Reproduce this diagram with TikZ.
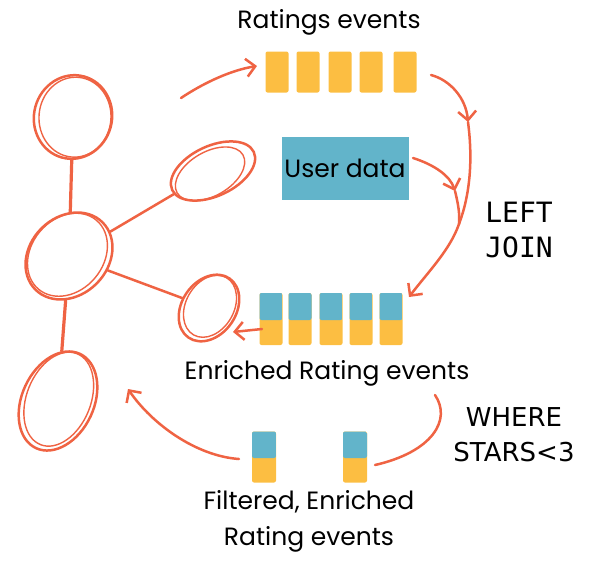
\documentclass[tikz,border=0pt]{standalone}
\usepackage{fontspec}
\setmainfont{Poppins}
\newfontfamily\monof{DejaVu Sans Mono}
\newfontfamily\sansf{DejaVu Sans}
\usetikzlibrary{shapes.geometric,arrows.meta}
\definecolor{orng}{RGB}{239,99,67}
\definecolor{yel}{RGB}{252,190,66}
\definecolor{blu}{RGB}{98,180,202}
\begin{document}
\begin{tikzpicture}[x=1pt,y=-1pt,
  sk/.style={draw=orng, line width=2.5pt, line cap=round, line join=round},
  thin/.style={draw=orng, line width=1.4pt},
  arr/.style={sk, -{Straight Barb[length=9pt,width=18pt]}},
  blob/.style={sk, ellipse, inner sep=0pt},
  ycup/.style={fill=yel, minimum width=23pt, minimum height=41pt, rounded corners=2pt, inner sep=0pt},
  bcup/.style={fill=yel, minimum width=23pt, minimum height=52pt, rounded corners=2pt, inner sep=0pt,
    path picture={\fill[blu] (path picture bounding box.north west) rectangle ([yshift=-1pt]path picture bounding box.east);}},
  lbl/.style={font=\fontsize{25}{36}\selectfont, align=center, inner sep=0pt},
  mono/.style={font=\monof\fontsize{28}{35}\selectfont, align=left, inner sep=0pt},
  sql/.style={font=\sansf\fontsize{26}{35}\selectfont, align=center, inner sep=0pt}
]
\useasboundingbox (0,0) rectangle (599,574);

% graph nodes
\node[blob, minimum width=78pt, minimum height=84pt, rotate=-15] (c1) at (73,117) {};
\node[blob, minimum width=90pt, minimum height=50pt, rotate=25] (c2) at (213,171) {};
\node[blob, minimum width=95pt, minimum height=78pt, rotate=45] (c3) at (69,256) {};
\node[blob, minimum width=72pt, minimum height=54pt, rotate=55] (c4) at (209,308) {};
\node[blob, minimum width=104pt, minimum height=72pt, rotate=65] (c5) at (58,401) {};
% second sketch strokes
\draw[thin, rotate around={-5:(c1)}] ([xshift=2pt]c1) ellipse [x radius=36pt, y radius=40pt];
\draw[thin, rotate around={30:(c2)}] ([xshift=-4pt,yshift=-1pt]c2) ellipse [x radius=38pt, y radius=22pt];
\draw[thin, rotate around={50:(c3)}] ([yshift=2pt]c3) ellipse [x radius=45pt, y radius=36pt];
\draw[thin, rotate around={60:(c4)}] ([xshift=2pt]c4) ellipse [x radius=33pt, y radius=24pt];
\draw[thin, rotate around={68:(c5)}] ([xshift=2pt]c5) ellipse [x radius=49pt, y radius=32pt];

% graph edges
\draw[sk, line width=3.2pt] (c1) -- (c3);
\draw[sk, line width=3.2pt] (c3) -- (c5);
\draw[sk] (c3) -- (c2);
\draw[sk] (c4) -- (c3);

% Ratings events
\node[lbl] (rl) at (329,22) {Ratings events};
\node[ycup] (r1) at (277,72) {};
\node[ycup] (r2) at (308,72) {};
\node[ycup] (r3) at (340,72) {};
\node[ycup] (r4) at (371,72) {};
\node[ycup] (r5) at (405,72) {};

% User data
\node[fill=blu, minimum width=127pt, minimum height=63pt, inner sep=0pt, font=\fontsize{25}{30}\selectfont] (ud) at (345,168) {User data};

% Enriched
\node[bcup] (e1) at (271,319) {};
\node[bcup] (e2) at (300,319) {};
\node[bcup] (e3) at (331,319) {};
\node[bcup] (e4) at (361,319) {};
\node[bcup] (e5) at (391,319) {};
\node[lbl] (el) at (327,373) {Enriched Rating events};

% Filtered
\node[bcup, minimum width=24pt, minimum height=51pt] (f1) at (264,457) {};
\node[bcup, minimum width=24pt, minimum height=51pt] (f2) at (355,457) {};
\node[lbl] (fl) at (309,521) {Filtered, Enriched\\Rating events};

% SQL labels
\node[mono] (lj) at (519,230) {LEFT\\JOIN};
\node[sql] (wh) at (514,435) {WHERE\\STARS<3};

% connector coordinates
\coordinate (a0) at (181,98);
\coordinate (a1) at (257,66);
\coordinate (j0) at (431,75);
\coordinate (j1) at (468,122);
\coordinate (jm) at (459,224);
\coordinate (jt) at (409,297);
\coordinate (u0) at (413,158);
\coordinate (u1) at (455,191);
\coordinate (e1a) at (262,329);
\coordinate (c4a) at (233,332);
\coordinate (f1a) at (239,459);
\coordinate (c5a) at (128,389);
\coordinate (w0) at (435,395);
\coordinate (w1) at (375,465);

% connectors
\draw[arr] (a0) .. controls (205,82) and (232,70) .. (a1);
\draw[arr] (j0) .. controls (450,80) and (466,98) .. (j1);
\draw[sk] (j1) .. controls (473,160) and (470,195) .. (jm);
\draw[arr] (jm) .. controls (450,250) and (428,272) .. (jt);
\draw[arr] (u0) .. controls (435,165) and (450,176) .. (u1);
\draw[sk] (u1) .. controls (458,203) and (460,214) .. (jm);
\draw[arr] (e1a) -- (c4a);
\draw[arr] (f1a) .. controls (196,456) and (152,424) .. (c5a);
\draw[sk] (w0) .. controls (452,420) and (432,452) .. (w1);
\end{tikzpicture}
\end{document}
